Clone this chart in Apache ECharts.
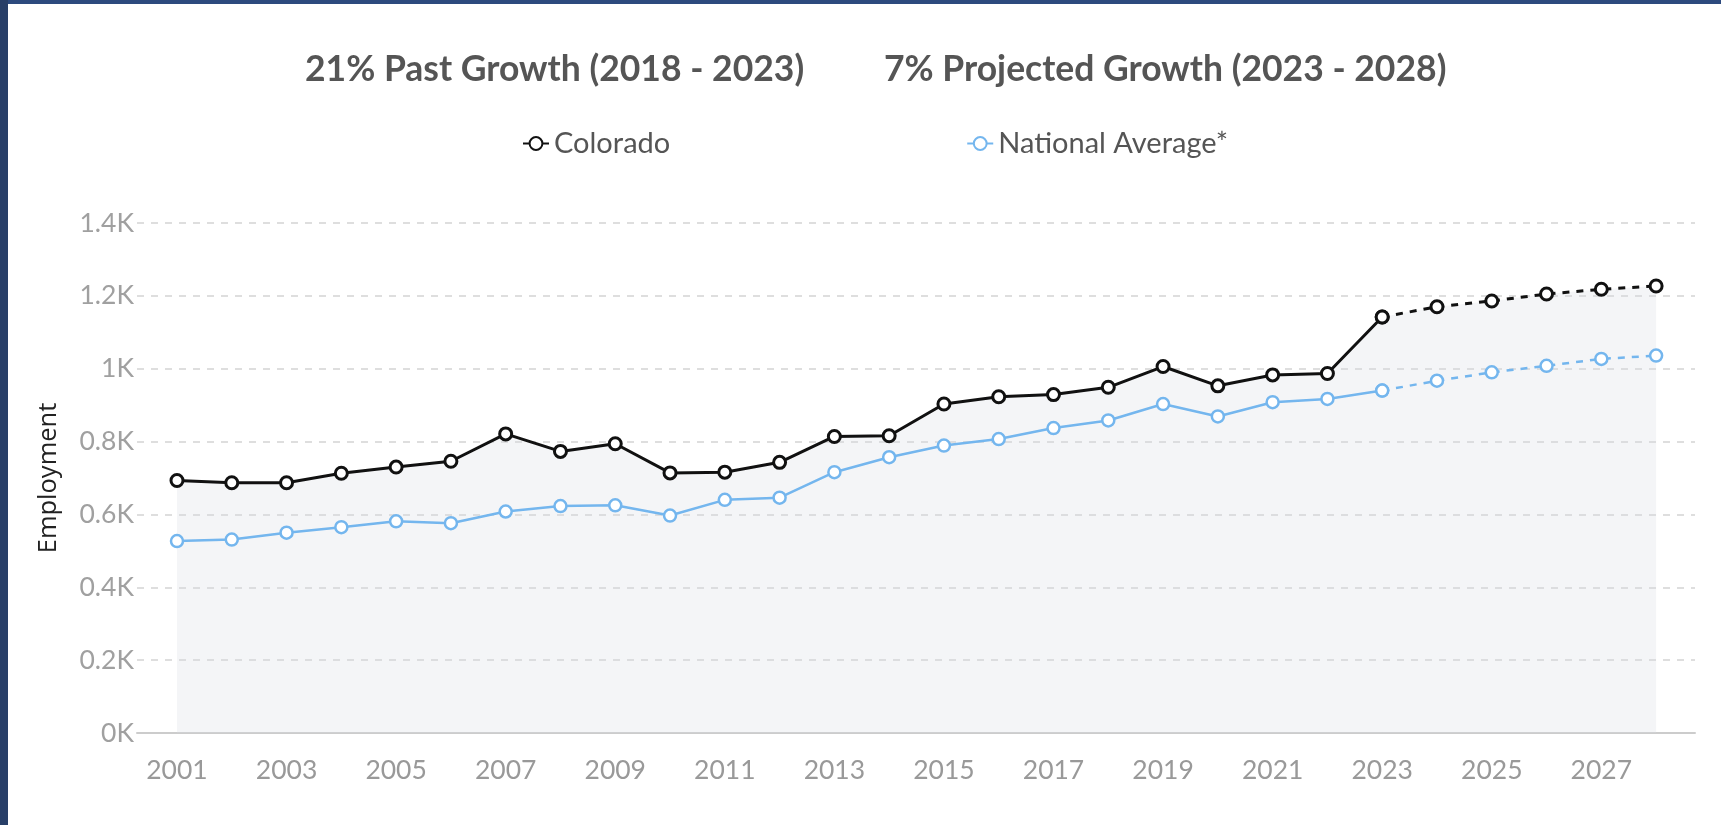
<!DOCTYPE html>
<html>
<head>
<meta charset="utf-8">
<script src="https://cdn.jsdelivr.net/npm/echarts@6/dist/echarts.min.js"></script>
<style>
html,body{margin:0;padding:0;background:#fff;}
#chart{width:1721px;height:825px;}
</style>
</head>
<body>
<div id="chart"></div>
<script>
const years = [2001,2002,2003,2004,2005,2006,2007,2008,2009,2010,2011,2012,2013,2014,2015,2016,2017,2018,2019,2020,2021,2022,2023,2024,2025,2026,2027,2028];
const colorado = [693,687,687,713,730,746,821,773,794,714,716,743,814,816,903,923,929,949,1006,953,983,987,1142,1170,1186,1205,1218,1227];
const national = [527,531,550,565,581,576,608,623,625,597,640,646,716,757,789,807,837,858,903,869,908,917,940,967,990,1008,1027,1036];
const xTickLabels = [2001,2003,2005,2007,2009,2011,2013,2015,2017,2019,2021,2023,2025,2027];
const projectionStart = 2023;
const titles = ['21% Past Growth (2018 - 2023)', '7% Projected Growth (2023 - 2028)'];
const seriesNames = ['Colorado', 'National Average*'];

const pairs = (vals) => years.map((y, i) => [y, vals[i]]);
const actual = (vals) => pairs(vals).filter(p => p[0] <= projectionStart);
const projected = (vals) => pairs(vals).filter(p => p[0] >= projectionStart);

const BLACK = '#111111';
const BLUE = '#74b6ee';
const AREA = 'rgba(214,219,228,0.28)';

const chart = echarts.init(document.getElementById('chart'));
const lineSeries = (name, data, color, width, dashed, area) => ({
  name, type: 'line', data,
  symbol: 'circle', symbolSize: 12,
  lineStyle: { color, width, type: dashed ? [7, 7] : 'solid' },
  itemStyle: { color: '#fff', borderColor: color, borderWidth: width },
  areaStyle: area ? { color: AREA, opacity: 1 } : undefined,
  emphasis: { disabled: true },
  animation: false
});

chart.setOption({
  animation: false,
  textStyle: { fontFamily: 'Lato' },
  graphic: [
    { type: 'rect', left: 0, top: 0, shape: { width: 1721, height: 4 }, style: { fill: '#2d4a7e' }, z: 100 },
    { type: 'rect', left: 0, top: 0, shape: { width: 8, height: 825 }, style: { fill: '#283f68' }, z: 100 }
  ],
  title: [
    { text: titles[0], left: 300, top: 47, textStyle: { fontFamily: 'Lato', fontSize: 35.5, fontWeight: 'bold', color: '#555' } },
    { text: titles[1], left: 879, top: 47, textStyle: { fontFamily: 'Lato', fontSize: 35.5, fontWeight: 'bold', color: '#555' } }
  ],
  legend: {
    data: seriesNames,
    left: 517, top: 124,
    itemWidth: 26, itemHeight: 16, itemGap: 296,
    textStyle: { fontFamily: 'Lato', fontSize: 29, color: '#555' }
  },
  grid: { left: 137, right: 26, top: 223, bottom: 92, outerBoundsMode: 'none' },
  xAxis: {
    type: 'value', min: 2000.27, max: 2028.71,
    axisLine: { show: true, lineStyle: { color: '#cccccc', width: 2 } },
    axisTick: { show: false },
    splitLine: { show: false },
    axisLabel: {
      customValues: xTickLabels,
      formatter: v => String(v),
      color: '#999', fontSize: 26.5, margin: 24, fontFamily: 'Lato'
    }
  },
  yAxis: {
    type: 'value', min: 0, max: 1400, interval: 200,
    name: 'Employment', nameLocation: 'middle', nameRotate: 90, nameGap: 75,
    nameTextStyle: { fontFamily: 'Open Sans', fontSize: 25.5, color: '#222', fontWeight: 500 },
    axisLine: { show: false }, axisTick: { show: false },
    axisLabel: { formatter: v => (v / 1000) + 'K', color: '#a0a0a0', fontSize: 26.5, margin: 3, fontFamily: 'Lato' },
    splitLine: { lineStyle: { color: '#d3d3d3', width: 1.5, type: [7, 7] } }
  },
  series: [
    lineSeries(seriesNames[0], actual(colorado), BLACK, 3, false, true),
    lineSeries(seriesNames[0], projected(colorado), BLACK, 3, true, true),
    lineSeries(seriesNames[1], actual(national), BLUE, 2.5, false, false),
    lineSeries(seriesNames[1], projected(national), BLUE, 2.5, true, false)
  ]
});
</script>
</body>
</html>
